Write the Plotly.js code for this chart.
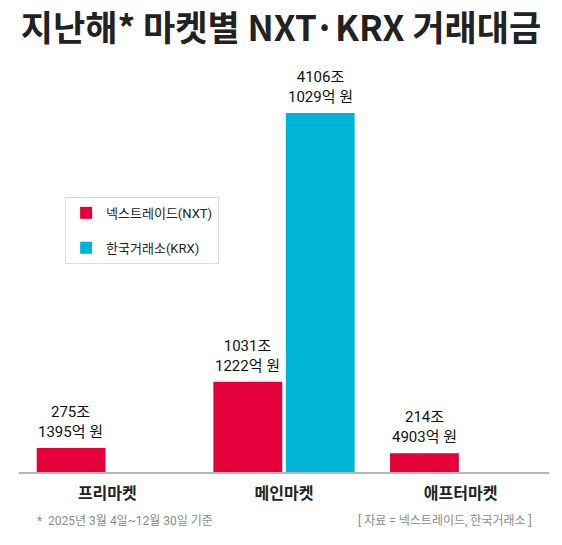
<!DOCTYPE html>
<html>
<head>
<meta charset="utf-8">
<script src="https://cdn.plot.ly/plotly-3.0.1.min.js"></script>
<style>
  html, body { margin: 0; padding: 0; background: #fff; }
  #chart { width: 562px; height: 545px; }
</style>
</head>
<body>
<div id="chart"></div>
<script>
// ---- data (거래대금: 조 + 억 원) ----
const categories = ["프리마켓", "메인마켓", "애프터마켓"];
const nxtJo  = [275, 1031, 214];
const nxtEok = [1395, 1222, 4903];
const krxJo  = [null, 4106, null];
const krxEok = [null, 1029, null];
const seriesNames = ["넥스트레이드(NXT)", "한국거래소(KRX)"];

const toValue = (jo, eok) => (jo == null ? null : jo + eok / 10000);
const nxtVals = nxtJo.map((j, i) => toValue(j, nxtEok[i]));
const krxVals = krxJo.map((j, i) => toValue(j, krxEok[i]));

const FONT = "Roboto, 'Noto Sans CJK KR', sans-serif";
const RED = "#E4003A";
const CYAN = "#00B4D8";

const traces = [
  { type: "bar", name: seriesNames[0], x: categories, y: nxtVals,
    marker: { color: RED }, legendgroup: "a", hoverinfo: "skip" },
  { type: "bar", name: seriesNames[1], x: categories, y: krxVals,
    marker: { color: CYAN }, legendgroup: "b", hoverinfo: "skip" }
];

const annotations = [];
function addLabels(vals, jo, eok, shift) {
  vals.forEach((v, i) => {
    if (v == null) return;
    annotations.push({
      x: categories[i], y: v, xref: "x", yref: "y",
      text: jo[i] + "조<br>" + eok[i] + "억 원",
      showarrow: false, xshift: shift, yshift: 5, yanchor: "bottom",
      font: { family: FONT, size: 15, color: "#111" }
    });
  });
}
addLabels(nxtVals, nxtJo, nxtEok, -36.5);
addLabels(krxVals, krxJo, krxEok, 36.5);

annotations.push({
  xref: "paper", yref: "paper", x: 0.03, y: -0.125, xanchor: "left", yanchor: "middle",
  text: "*  2025년 3월 4일~12월 30일 기준", showarrow: false,
  font: { family: FONT, size: 12, color: "#8a8a8a" }
});
annotations.push({
  xref: "paper", yref: "paper", x: 0.971, y: -0.125, xanchor: "right", yanchor: "middle",
  text: "[ 자료 = 넥스트레이드, 한국거래소 ]", showarrow: false,
  font: { family: FONT, size: 12, color: "#8a8a8a" }
});

const layout = {
  width: 562, height: 545,
  margin: { l: 19, r: 13, t: 79, b: 73 },
  paper_bgcolor: "#fff", plot_bgcolor: "#fff",
  title: {
    text: "지난해* 마켓별 NXT·KRX 거래대금",
    font: { family: "'Noto Sans CJK KR', sans-serif", size: 35, color: "#222", weight: 700 },
    xref: "container", x: 0.5, xanchor: "center",
    yref: "container", y: 0.948, yanchor: "middle"
  },
  barmode: "group",
  bargap: 0.18,
  bargroupgap: 0.05,
  xaxis: {
    type: "category",
    showline: true, linecolor: "#b5b5b5", linewidth: 1.5,
    ticks: "outside", ticklen: 6, tickcolor: "rgba(0,0,0,0)",
    tickfont: { family: "'Noto Sans CJK KR', sans-serif", size: 16, color: "#222", weight: 700 },
    showgrid: false, zeroline: false, fixedrange: true
  },
  yaxis: {
    range: [0, 4495], visible: false, showgrid: false, zeroline: false, fixedrange: true
  },
  showlegend: true,
  legend: {
    x: 0.087, y: 0.70, xanchor: "left", yanchor: "top",
    bordercolor: "#dcdcdc", borderwidth: 1, bgcolor: "#fff",
    traceorder: "grouped", tracegroupgap: 15,
    font: { family: FONT, size: 13, color: "#222" }
  },
  annotations: annotations
};

Plotly.newPlot("chart", traces, layout, { displayModeBar: false, staticPlot: true });
</script>
</body>
</html>
